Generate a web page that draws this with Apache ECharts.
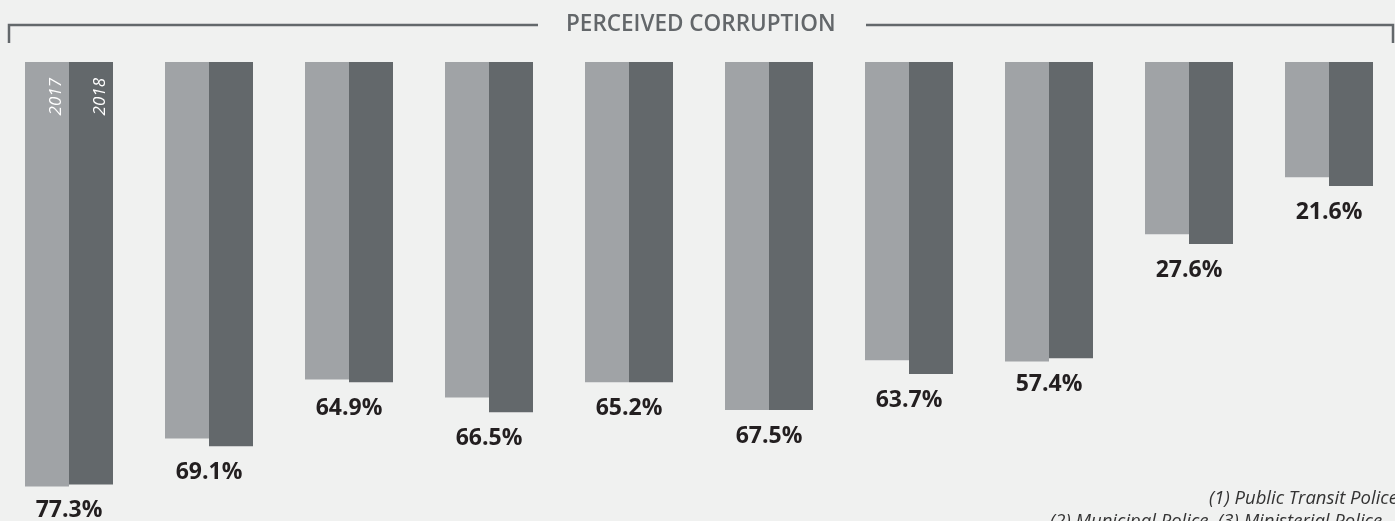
<!DOCTYPE html>
<html>
<head>
<meta charset="utf-8">
<script src="https://cdn.jsdelivr.net/npm/echarts@6/dist/echarts.min.js"></script>
<style>
  html, body { margin: 0; padding: 0; background: #f0f1f0; }
  #chart { width: 1395px; height: 521px; }
</style>
</head>
<body>
<div id="chart"></div>
<script>
// bar lengths (bars hang down from the top)
const categories = ['1', '2', '3', '4', '5', '6', '7', '8', '9', '10'];
const values2017 = [77.7, 68.9, 58.1, 61.4, 58.6, 63.7, 54.6, 54.8, 31.5, 21.1];
const values2018 = [77.3, 70.3, 58.6, 64.1, 58.6, 63.7, 57.1, 54.2, 33.3, 22.7];
const labels2018 = ['77.3%', '69.1%', '64.9%', '66.5%', '65.2%', '67.5%', '63.7%', '57.4%', '27.6%', '21.6%'];
const years = ['2017', '2018'];

const chart = echarts.init(document.getElementById('chart'), null, { renderer: 'canvas' });

const yearLabel = (text) => ({
  show: true,
  formatter: text,
  rotate: 90,
  position: [31, 16],
  align: 'right',
  verticalAlign: 'middle',
  color: '#ffffff',
  fontFamily: 'Open Sans',
  fontStyle: 'italic',
  fontWeight: 'normal',
  fontSize: 17
});

function withYearLabel(values, year) {
  return values.map((v, i) => i === 0 ? { value: v, label: yearLabel(year) } : v);
}

const option = {
  backgroundColor: '#f0f1f0',
  animation: false,
  title: {
    text: 'PERCEIVED CORRUPTION',
    left: 561,
    top: 8,
    textStyle: {
      fontFamily: 'Open Sans',
      fontWeight: 600,
      fontSize: 22.5,
      color: '#63676a'
    }
  },
  grid: { left: -1, width: 1400, top: 62, bottom: 0, outerBoundsMode: 'none' },
  xAxis: { type: 'category', data: categories, show: false },
  yAxis: { type: 'value', inverse: true, min: 0, max: 84, show: false },
  series: [
    {
      name: years[0],
      type: 'bar',
      barWidth: 44,
      barGap: '0%',
      itemStyle: { color: '#a0a3a6' },
      data: withYearLabel(values2017, years[0])
    },
    {
      name: years[1],
      type: 'bar',
      barWidth: 44,
      barGap: '0%',
      itemStyle: { color: '#63686b' },
      data: withYearLabel(values2018, years[1])
    },
    {
      // 2018 value labels, centred under each pair
      name: 'labels',
      type: 'scatter',
      symbolSize: 0,
      silent: true,
      itemStyle: { opacity: 1 },
      label: {
        show: true,
        position: 'bottom',
        distance: 15,
        formatter: (p) => labels2018[p.dataIndex],
        fontFamily: 'Open Sans',
        fontWeight: 'bold',
        fontSize: 23,
        color: '#231f20'
      },
      data: values2018
    }
  ],
  graphic: [
    {
      type: 'polyline',
      shape: { points: [[9, 43], [9, 25], [538, 25]] },
      style: { stroke: '#63686b', lineWidth: 2.5, fill: null }
    },
    {
      type: 'polyline',
      shape: { points: [[866, 25], [1393, 25], [1393, 43]] },
      style: { stroke: '#63686b', lineWidth: 2.5, fill: null }
    },
    {
      type: 'text',
      left: 1209,
      top: 489,
      style: {
        text: '(1) Public Transit Police',
        font: 'italic 18.5px "Open Sans"',
        fill: '#333333'
      }
    },
    {
      type: 'text',
      left: 1050,
      top: 512,
      style: {
        text: '(2) Municipal Police  (3) Ministerial Police',
        font: 'italic 18.5px "Open Sans"',
        fill: '#333333'
      }
    }
  ]
};

chart.setOption(option);
</script>
</body>
</html>
